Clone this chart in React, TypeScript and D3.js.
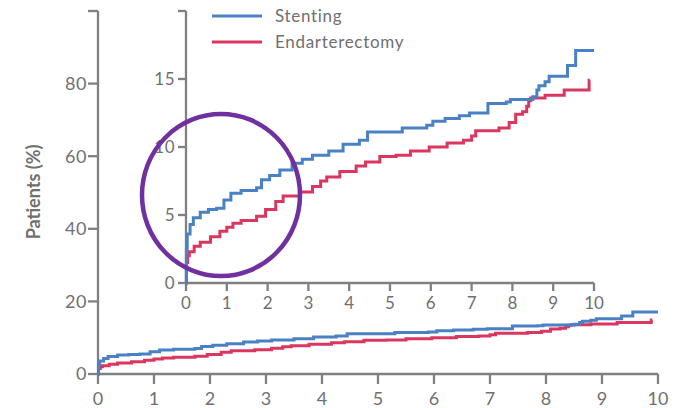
import React from "react";
import * as d3 from "d3";

const years = [0, 1, 2, 3, 4, 5, 6, 7, 8, 9, 10];
const mainYTicks = [0, 20, 40, 60, 80];
const insetYTicks = [0, 5, 10, 15];
const seriesNames = ["Stenting", "Endarterectomy"];

const stenting: [number, number][] = [
  [0, 0], [0.01, 2.5], [0.03, 3.6], [0.1, 4.3], [0.18, 4.8], [0.35, 5.2], [0.55, 5.4],
  [0.75, 5.5], [0.93, 6.1], [1.1, 6.6], [1.35, 6.8], [1.73, 7.0], [1.85, 7.6], [2.05, 7.9],
  [2.3, 8.3], [2.6, 8.8], [2.85, 9.1], [3.1, 9.4], [3.5, 9.7], [3.85, 10.2], [4.25, 10.5],
  [4.45, 11.1], [5.3, 11.4], [5.9, 11.6], [6.05, 11.9], [6.35, 12.1], [6.7, 12.3],
  [6.95, 12.5], [7.4, 13.2], [7.85, 13.3], [7.95, 13.5], [8.5, 13.7], [8.6, 14.2],
  [8.65, 14.5], [8.8, 14.8], [8.9, 15.2], [9.35, 16.0], [9.55, 17.1], [10, 17.1],
];

const endarterectomy: [number, number][] = [
  [0, 0], [0.01, 1.5], [0.04, 2.0], [0.08, 2.3], [0.2, 2.7], [0.35, 3.0], [0.6, 3.4],
  [0.83, 3.8], [1.0, 4.1], [1.15, 4.4], [1.35, 4.6], [1.73, 4.9], [1.95, 5.4], [2.2, 6.0],
  [2.38, 6.4], [2.8, 6.7], [3.1, 7.1], [3.3, 7.5], [3.45, 7.8], [3.77, 8.2], [4.17, 8.6],
  [4.4, 8.9], [4.75, 9.3], [5.15, 9.4], [5.5, 9.7], [5.96, 10.0], [6.4, 10.3], [6.8, 10.5],
  [7.0, 10.8], [7.1, 11.2], [7.67, 11.4], [7.92, 11.8], [8.08, 12.4], [8.25, 12.6],
  [8.35, 13.0], [8.4, 13.4], [8.45, 13.6], [8.8, 13.8], [9.27, 14.2], [9.88, 14.9], [9.9, 14.9],
];

const BLUE = "#4a80c4";
const RED = "#d9375f";
const GRAY = "#808080";
const TEXT = "#707070";
const PURPLE = "#7030a0";
const FONT = "Lato, 'Open Sans', sans-serif";

export default function App() {
  const xMain = d3.scaleLinear().domain([0, 10]).range([98, 658]);
  const yMain = d3.scaleLinear().domain([0, 100]).range([374, 11]);
  const xIn = d3.scaleLinear().domain([0, 10]).range([186, 594]);
  const yIn = d3.scaleLinear().domain([0, 20]).range([283, 11]);

  const lineMain = d3.line<[number, number]>().x(d => xMain(d[0])).y(d => yMain(d[1])).curve(d3.curveStepAfter);
  const lineIn = d3.line<[number, number]>().x(d => xIn(d[0])).y(d => yIn(d[1])).curve(d3.curveStepAfter);

  const axisStroke = { stroke: GRAY, strokeWidth: 2.3, fill: "none" };

  return (
    <svg width={675} height={408} style={{ position: "absolute", left: 0, top: 0, background: "#fff" }} fontFamily={FONT}>
      {/* Main axes */}
      <line x1={xMain(0)} x2={xMain(0)} y1={yMain(0)} y2={yMain(100)} {...axisStroke} />
      <line x1={xMain(0) - 10} x2={xMain(0)} y1={yMain(100)} y2={yMain(100)} {...axisStroke} />
      <line x1={xMain(0)} x2={xMain(10)} y1={yMain(0)} y2={yMain(0)} {...axisStroke} />
      {mainYTicks.map(t => (
        <g key={"my" + t}>
          <line x1={xMain(0) - 10} x2={xMain(0)} y1={yMain(t)} y2={yMain(t)} {...axisStroke} />
          <text x={xMain(0) - 11} y={yMain(t)} dy="0.36em" textAnchor="end" fontSize={18} letterSpacing={0.5} fill={TEXT}>{t}</text>
        </g>
      ))}
      {years.map(t => (
        <g key={"mx" + t}>
          <line x1={xMain(t)} x2={xMain(t)} y1={yMain(0)} y2={yMain(0) + 10} {...axisStroke} />
          <text x={xMain(t)} y={yMain(0) + 31} textAnchor="middle" fontSize={18} fill={TEXT}>{t}</text>
        </g>
      ))}
      <text transform={`translate(40,192) rotate(-90)`} textAnchor="middle" fontSize={18} fontWeight="bold" fill={TEXT}>Patients (%)</text>

      <path d={lineMain(endarterectomy) || ""} stroke={RED} strokeWidth={3} fill="none" />
      <path d={lineMain(stenting) || ""} stroke={BLUE} strokeWidth={3} fill="none" />

      {/* Inset axes */}
      <line x1={xIn(0)} x2={xIn(0)} y1={yIn(0)} y2={yIn(20)} {...axisStroke} />
      <line x1={xIn(0) - 8} x2={xIn(0)} y1={yIn(20)} y2={yIn(20)} {...axisStroke} />
      <line x1={xIn(0)} x2={xIn(10)} y1={yIn(0)} y2={yIn(0)} {...axisStroke} />
      {insetYTicks.map(t => (
        <g key={"iy" + t}>
          <line x1={xIn(0) - 8} x2={xIn(0)} y1={yIn(t)} y2={yIn(t)} {...axisStroke} />
          <text x={xIn(0) - 11} y={yIn(t)} dy="0.36em" textAnchor="end" fontSize={17} letterSpacing={0.5} fill={TEXT}>{t}</text>
        </g>
      ))}
      {years.map(t => (
        <g key={"ix" + t}>
          <line x1={xIn(t)} x2={xIn(t)} y1={yIn(0)} y2={yIn(0) + 8} {...axisStroke} />
          <text x={xIn(t)} y={yIn(0) + 26} textAnchor="middle" fontSize={17} fill={TEXT}>{t}</text>
        </g>
      ))}

      <path d={lineIn(endarterectomy) || ""} stroke={RED} strokeWidth={3} fill="none" />
      <path d={lineIn(stenting) || ""} stroke={BLUE} strokeWidth={3} fill="none" />

      {/* Legend */}
      {seriesNames.map((name, i) => (
        <g key={name} transform={`translate(0,${16 + i * 26})`}>
          <line x1={212} x2={262} y1={0} y2={0} stroke={i === 0 ? BLUE : RED} strokeWidth={3} />
          <text x={275} y={0} dy="0.36em" fontSize={17} letterSpacing={0.7} fill={TEXT}>{name}</text>
        </g>
      ))}

      {/* Highlight circle */}
      <ellipse cx={221} cy={195} rx={79} ry={81} fill="none" stroke={PURPLE} strokeWidth={4.5} />
    </svg>
  );
}
